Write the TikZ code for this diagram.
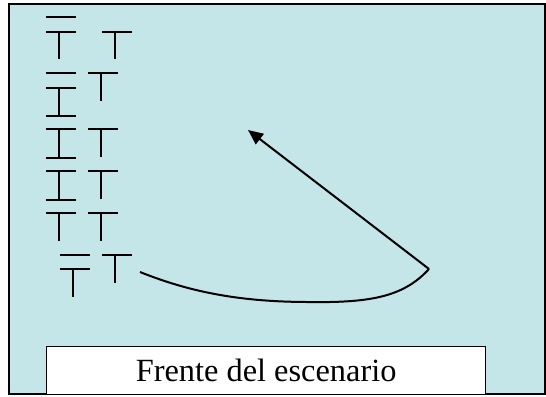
\documentclass[tikz,border=0pt]{standalone}
\usepackage{fontspec}
\setmainfont{Liberation Serif}
\usetikzlibrary{arrows.meta}
\definecolor{stagebg}{RGB}{196,230,232}
\tikzset{
  glyph/.style={line width=2bp, line cap=butt},
  conn/.style={line width=2bp},
  frontbox/.style={draw, fill=white, line width=1.2bp, inner sep=0pt,
    minimum width=439bp, minimum height=48bp, anchor=north west,
    font=\fontsize{32.5}{32.5}\selectfont}
}
\begin{document}
\begin{tikzpicture}[x=1bp,y=-1bp]
\useasboundingbox (0,0) rectangle (546,396);
% stage frame
\draw[line width=2bp, fill=stagebg] (9,4) rectangle (545,394);
% front of stage
\node[frontbox] (front) at (46,346) {Frente del escenario};
% row 0 / 1
\draw[glyph] (46,17) -- (76,17);
\draw[glyph] (46,32) -- (76,32) (59,32) -- (59,59);
\draw[glyph] (102,32) -- (132,32) (115,32) -- (115,59);
% row 2
\draw[glyph] (46,73) -- (76,73);
\draw[glyph] (46,88) -- (76,88) (59,88) -- (59,116) (46,116) -- (76,116);
\draw[glyph] (88,73) -- (118,73) (101,73) -- (101,101);
% row 3
\draw[glyph] (46,129) -- (76,129) (59,129) -- (59,158) (46,158) -- (76,158);
\draw[glyph] (88,129) -- (118,129) (101,129) -- (101,157);
% row 4
\draw[glyph] (46,171) -- (76,171) (59,171) -- (59,200) (46,200) -- (76,200);
\draw[glyph] (88,171) -- (118,171) (101,171) -- (101,199);
% row 5
\draw[glyph] (46,213) -- (76,213) (59,213) -- (59,241);
\draw[glyph] (88,213) -- (118,213) (101,213) -- (101,241);
% row 6
\draw[glyph] (60,255) -- (90,255);
\draw[glyph] (60,269) -- (90,269) (73,269) -- (73,297);
\draw[glyph] (102,255) -- (132,255) (115,255) -- (115,283);
% path
\coordinate (start) at (140,272);
\coordinate (low) at (310,302);
\coordinate (turn) at (429,269);
\coordinate (goal) at (248,130);
\draw[conn] (start) .. controls (190,292) and (240,302) .. (low)
  .. controls (375,303) and (405,295) .. (turn);
\draw[conn, -{Triangle[length=15bp,width=13bp]}] (turn) -- (goal);
\end{tikzpicture}
\end{document}
